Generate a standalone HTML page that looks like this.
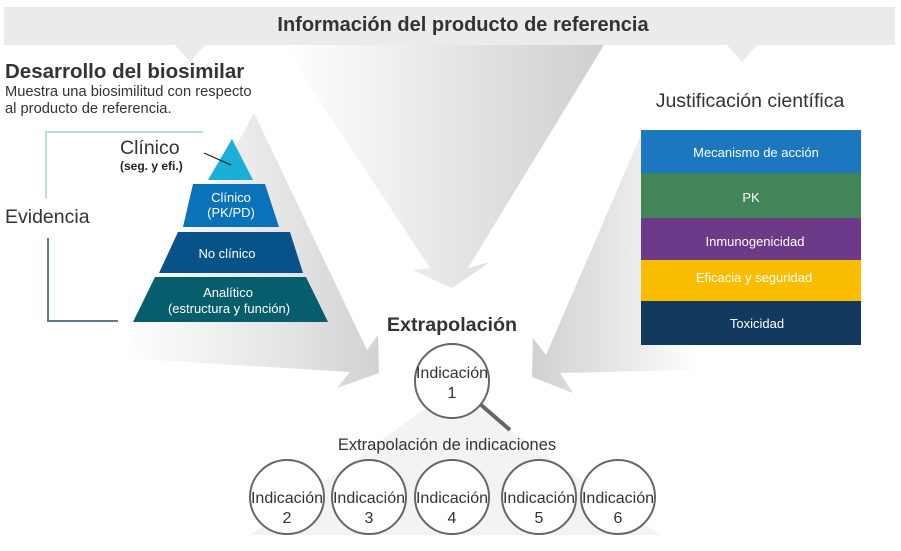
<!DOCTYPE html>
<html><head><meta charset="utf-8"><style>
html,body{margin:0;padding:0;background:#fff;}
svg{display:block;font-family:"Liberation Sans",Arial,sans-serif;}
</style></head><body>
<svg width="901" height="551" viewBox="0 0 901 551" xmlns="http://www.w3.org/2000/svg">
<defs>
<linearGradient id="gc" x1="0" y1="0" x2="1" y2="0">
<stop offset="0" stop-color="#ffffff"/><stop offset="1" stop-color="#cfcfcf"/></linearGradient>
<linearGradient id="gl" x1="0" y1="0" x2="1" y2="0">
<stop offset="0" stop-color="#ffffff"/><stop offset="0.6" stop-color="#e6e6e6"/><stop offset="1" stop-color="#d2d2d2"/></linearGradient>
<linearGradient id="gr" x1="0" y1="0" x2="1" y2="0">
<stop offset="0" stop-color="#d0d0d0"/><stop offset="0.5" stop-color="#e6e6e6"/><stop offset="1" stop-color="#ffffff"/></linearGradient>
</defs>
<rect x="4" y="7" width="891" height="38" fill="#ebebeb"/>
<polygon points="175,45 205,45 190,62" fill="#ebebeb"/>
<polygon points="727,45 757,45 742,62" fill="#ebebeb"/>
<text x="463" y="31" text-anchor="middle" font-size="20" font-weight="bold" fill="#333">Información del producto de referencia</text>
<polygon points="283,45 604,45 468,268 490,262 452,288 412,270 430,268" fill="url(#gc)"/>
<polygon points="254,113 367,350 378,335 379,373 337,388 350,372 120,358" fill="url(#gl)"/>
<polygon points="641,135 700,370 560,373 573,393 532,377 533,338 546,355" fill="url(#gr)"/>
<polygon points="430,405 474,405 660,535 250,535" fill="#f3f3f3"/>
<text x="5" y="78" font-size="20.5" font-weight="bold" fill="#333">Desarrollo del biosimilar</text>
<text x="5" y="96" font-size="14.7" fill="#333">Muestra una biosimilitud con respecto</text>
<text x="5" y="113" font-size="14.7" fill="#333">al producto de referencia.</text>
<polyline points="203,132 46,132 46,198" fill="none" stroke="#b5dde6" stroke-width="2"/>
<polyline points="48,238 48,321 118,321" fill="none" stroke="#5c7a96" stroke-width="2"/>
<text x="5" y="223" font-size="19.5" fill="#333">Evidencia</text>
<polygon points="232,139 253,180 208,180" fill="#1aafd6"/>
<polygon points="193,184 265,184 279,227 183,227" fill="#0a72b8"/>
<polygon points="178,232 290,232 303,273 159,273" fill="#075389"/>
<polygon points="155,277 306,277 328,322 133,322" fill="#065e6c"/>
<line x1="204" y1="153" x2="231" y2="165" stroke="#111" stroke-width="1"/>
<text x="120" y="154" font-size="19.5" fill="#333">Clínico</text>
<text x="120" y="170" font-size="12" font-weight="bold" fill="#222">(seg. y efi.)</text>
<g fill="#fff" font-size="13" text-anchor="middle">
<text x="231" y="202">Clínico</text><text x="231" y="217">(PK/PD)</text>
<text x="227" y="258">No clínico</text>
<text x="228" y="297">Analítico</text><text x="229" y="313">(estructura y función)</text>
</g>
<text x="750" y="107" font-size="19.5" text-anchor="middle" fill="#333">Justificación científica</text>
<rect x="641" y="130" width="220" height="43" fill="#1b78bf"/>
<rect x="641" y="173" width="220" height="45" fill="#428559"/>
<rect x="641" y="218" width="220" height="42" fill="#6c3a88"/>
<rect x="641" y="260" width="220" height="41" fill="#fbbd00"/>
<rect x="641" y="301" width="220" height="44" fill="#123a5e"/>
<g fill="#fff" font-size="13" text-anchor="middle">
<text x="756" y="157">Mecanismo de acción</text>
<text x="751" y="202">PK</text>
<text x="755" y="246">Inmunogenicidad</text>
<text x="754" y="282">Eficacia y seguridad</text>
<text x="757" y="328">Toxicidad</text>
</g>
<text x="452" y="331" font-size="19.7" font-weight="bold" text-anchor="middle" fill="#333">Extrapolación</text>
<line x1="480" y1="404" x2="510" y2="430" stroke="#666" stroke-width="4"/>
<circle cx="452" cy="381" r="37" fill="#fff" stroke="#666" stroke-width="2"/>
<g font-size="16" fill="#333" text-anchor="middle">
<text x="452" y="378">Indicación</text><text x="452" y="398">1</text>
<text x="447" y="450" font-size="16.5">Extrapolación de indicaciones</text>
</g>
<g fill="#fff" stroke="#666" stroke-width="2">
<circle cx="287" cy="497" r="37"/><circle cx="369" cy="497" r="37"/><circle cx="452" cy="497" r="37"/><circle cx="539" cy="497" r="37"/><circle cx="618" cy="497" r="37"/>
</g>
<g font-size="16" fill="#333" text-anchor="middle">
<text x="287" y="503">Indicación</text><text x="287" y="523">2</text>
<text x="369" y="503">Indicación</text><text x="369" y="523">3</text>
<text x="452" y="503">Indicación</text><text x="452" y="523">4</text>
<text x="539" y="503">Indicación</text><text x="539" y="523">5</text>
<text x="618" y="503">Indicación</text><text x="618" y="523">6</text>
</g>
</svg>
</body></html>
